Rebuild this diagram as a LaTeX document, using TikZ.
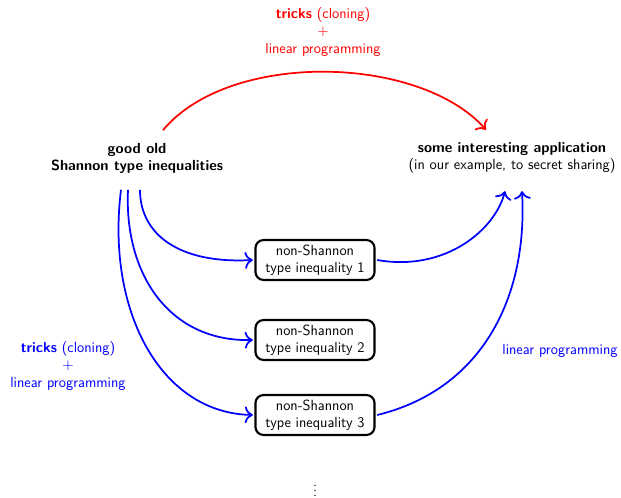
\documentclass[tikz,border=0pt]{standalone}
\usepackage{amsmath, amssymb}
\usepackage{fontspec}
\usepackage{xcolor}
\renewcommand{\familydefault}{\sfdefault}
\usetikzlibrary{arrows.meta}

\tikzset{
  ineqbox/.style={draw, line width=1.6pt, rounded corners=6pt, align=center, inner xsep=7.5pt, inner ysep=3.5pt, outer sep=2pt},
  bluearrow/.style={-{To[scale=1.35]}, draw=blue, line width=1.3pt},
  redarrow/.style={-{To[scale=1.35]}, draw=red, line width=1.3pt}
}

\begin{document}
\begin{tikzpicture}[x=0.75pt,y=0.75pt,yscale=-1,xscale=1, font=\fontsize{11}{12.8}\selectfont]
    \useasboundingbox (0,0) rectangle (621,498);

    % Text Node
    \node (shannon) at (137,158) [align=center, font=\fontsize{11}{12.8}\selectfont\bfseries] {good old\\Shannon type inequalities};
    % Text Node
    \node (app) at (512,158) [align=center] {\textbf{some interesting application}\\(in our example, to secret sharing)};

    % Boxes
    \node (ineq1) at (315,260) [ineqbox] {non-Shannon\\type inequality 1};
    \node (ineq2) at (315,340) [ineqbox] {non-Shannon\\type inequality 2};
    \node (ineq3) at (315,415) [ineqbox] {non-Shannon\\type inequality 3};

    % Text Node
    \node (dots) at (315,487) [inner sep=0pt] {$\vdots$};

    % Labels
    \node (toplabel) at (323,32) [align=center, text=red] {\textbf{tricks} (cloning)\\$+$\\linear programming};
    \node (leftlabel) at (68,366) [align=center, text=blue] {\textbf{tricks} (cloning)\\$+$\\linear programming};
    \node (rightlabel) at (560,351) [text=blue] {linear programming};

    % end points on the two text nodes
    \coordinate (s1) at ([shift={(3,12)}]shannon.south);
    \coordinate (s2) at ([shift={(-9,12)}]shannon.south);
    \coordinate (s3) at ([shift={(-16,12)}]shannon.south);
    \coordinate (sr) at ([shift={(26,-8)}]shannon.north);
    \coordinate (a1) at ([shift={(-7,13)}]app.south);
    \coordinate (a3) at ([shift={(10,13)}]app.south);
    \coordinate (ar) at ([shift={(-26,-8)}]app.north);

    % Curve Lines
    \draw [redarrow] (sr) .. controls (230,50) and (420,55) .. (ar);
    \draw [bluearrow] (s1) .. controls (140,235) and (180,264) .. (ineq1.west);
    \draw [bluearrow] (s2) .. controls (124,275) and (170,342) .. (ineq2.west);
    \draw [bluearrow] (s3) .. controls (106,310) and (160,413) .. (ineq3.west);
    \draw [bluearrow] (ineq1.east) .. controls (445,272) and (495,230) .. (a1);
    \draw [bluearrow] (ineq3.east) .. controls (480,390) and (528,300) .. (a3);

\end{tikzpicture}
\end{document}
